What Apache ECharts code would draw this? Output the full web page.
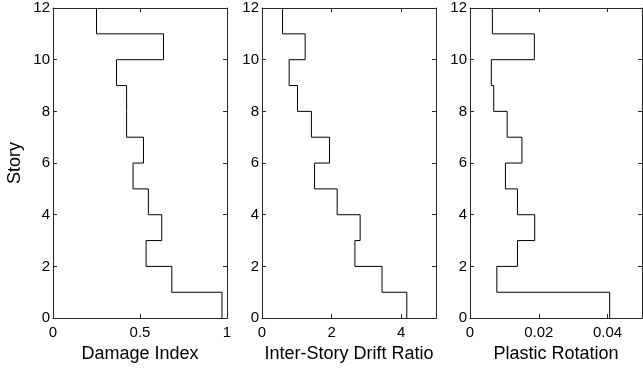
<!DOCTYPE html>
<html>
<head>
<meta charset="utf-8">
<script src="https://cdn.jsdelivr.net/npm/echarts@6/dist/echarts.min.js"></script>
<style>
  html, body { margin: 0; padding: 0; background: #fff; }
  #chart { width: 643px; height: 368px; }
</style>
</head>
<body>
<div id="chart"></div>
<script>
// value per story, story 1 (bottom) .. story 12 (top)
const damageIndex = [0.971, 0.683, 0.535, 0.625, 0.548, 0.46, 0.52, 0.423, 0.423, 0.365, 0.635, 0.25];
const driftRatio = [4.16, 3.45, 2.67, 2.82, 2.16, 1.51, 1.94, 1.42, 1.02, 0.78, 1.24, 0.59];
const plasticRotation = [0.0406, 0.0078, 0.0138, 0.0188, 0.0138, 0.0103, 0.0151, 0.0108, 0.0069, 0.0062, 0.0187, 0.0065];

const xNames = ["Damage Index", "Inter-Story Drift Ratio", "Plastic Rotation"];
const xRanges = [[0, 1, 0.5], [0, 5, 2], [0, 0.05, 0.02]];
const storyTicks = [0, 12, 2];

// stairs: vertical segment for each story, joined by horizontal lines at floor levels
function stairs(vals) {
  const pts = [];
  vals.forEach((v, i) => {
    pts.push([v, i]);
    pts.push([v, i + 1]);
  });
  return pts;
}

const FONT = "Liberation Sans, Arial, sans-serif";
const AXIS_COLOR = "#262626";
const lefts = [53, 262, 470];
const widths = [174, 174, 172];

const grid = [], xAxis = [], yAxis = [], series = [];
[damageIndex, driftRatio, plasticRotation].forEach((vals, k) => {
  grid.push({ left: lefts[k], top: 8, width: widths[k], height: 311, show: false });
  const [xmin, xmax, xint] = xRanges[k];
  const tick = { show: true, inside: true, length: 4, lineStyle: { color: AXIS_COLOR } };
  const line = { show: true, onZero: false, lineStyle: { color: AXIS_COLOR, width: 1 } };
  xAxis.push({
    gridIndex: k, type: "value", position: "bottom", min: xmin, max: xmax, interval: xint,
    axisLine: line, axisTick: tick, splitLine: { show: false },
    axisLabel: { color: "#000", fontSize: 15, fontFamily: FONT, margin: 7, showMaxLabel: k === 0 },
    name: xNames[k], nameLocation: "middle", nameGap: 23,
    nameTextStyle: { color: "#000", fontSize: 18, fontFamily: FONT }
  });
  xAxis.push({
    gridIndex: k, type: "value", position: "top", min: xmin, max: xmax, interval: xint,
    axisLine: line, axisTick: tick, axisLabel: { show: false }, splitLine: { show: false }
  });
  yAxis.push({
    gridIndex: k, type: "value", position: "left", min: storyTicks[0], max: storyTicks[1], interval: storyTicks[2],
    axisLine: line, axisTick: tick, splitLine: { show: false },
    axisLabel: { color: "#000", fontSize: 15, fontFamily: FONT, margin: 3 },
    name: k === 0 ? "Story" : "", nameLocation: "middle", nameGap: 29,
    nameTextStyle: { color: "#000", fontSize: 18, fontFamily: FONT }
  });
  yAxis.push({
    gridIndex: k, type: "value", position: "right", min: storyTicks[0], max: storyTicks[1], interval: storyTicks[2],
    axisLine: line, axisTick: tick, axisLabel: { show: false }, splitLine: { show: false }
  });
  series.push({
    type: "line", xAxisIndex: 2 * k, yAxisIndex: 2 * k,
    data: stairs(vals), showSymbol: false, silent: true,
    lineStyle: { color: "#000", width: 1 }
  });
});

const chart = echarts.init(document.getElementById("chart"));
chart.setOption({ animation: false, grid, xAxis, yAxis, series });
</script>
</body>
</html>
